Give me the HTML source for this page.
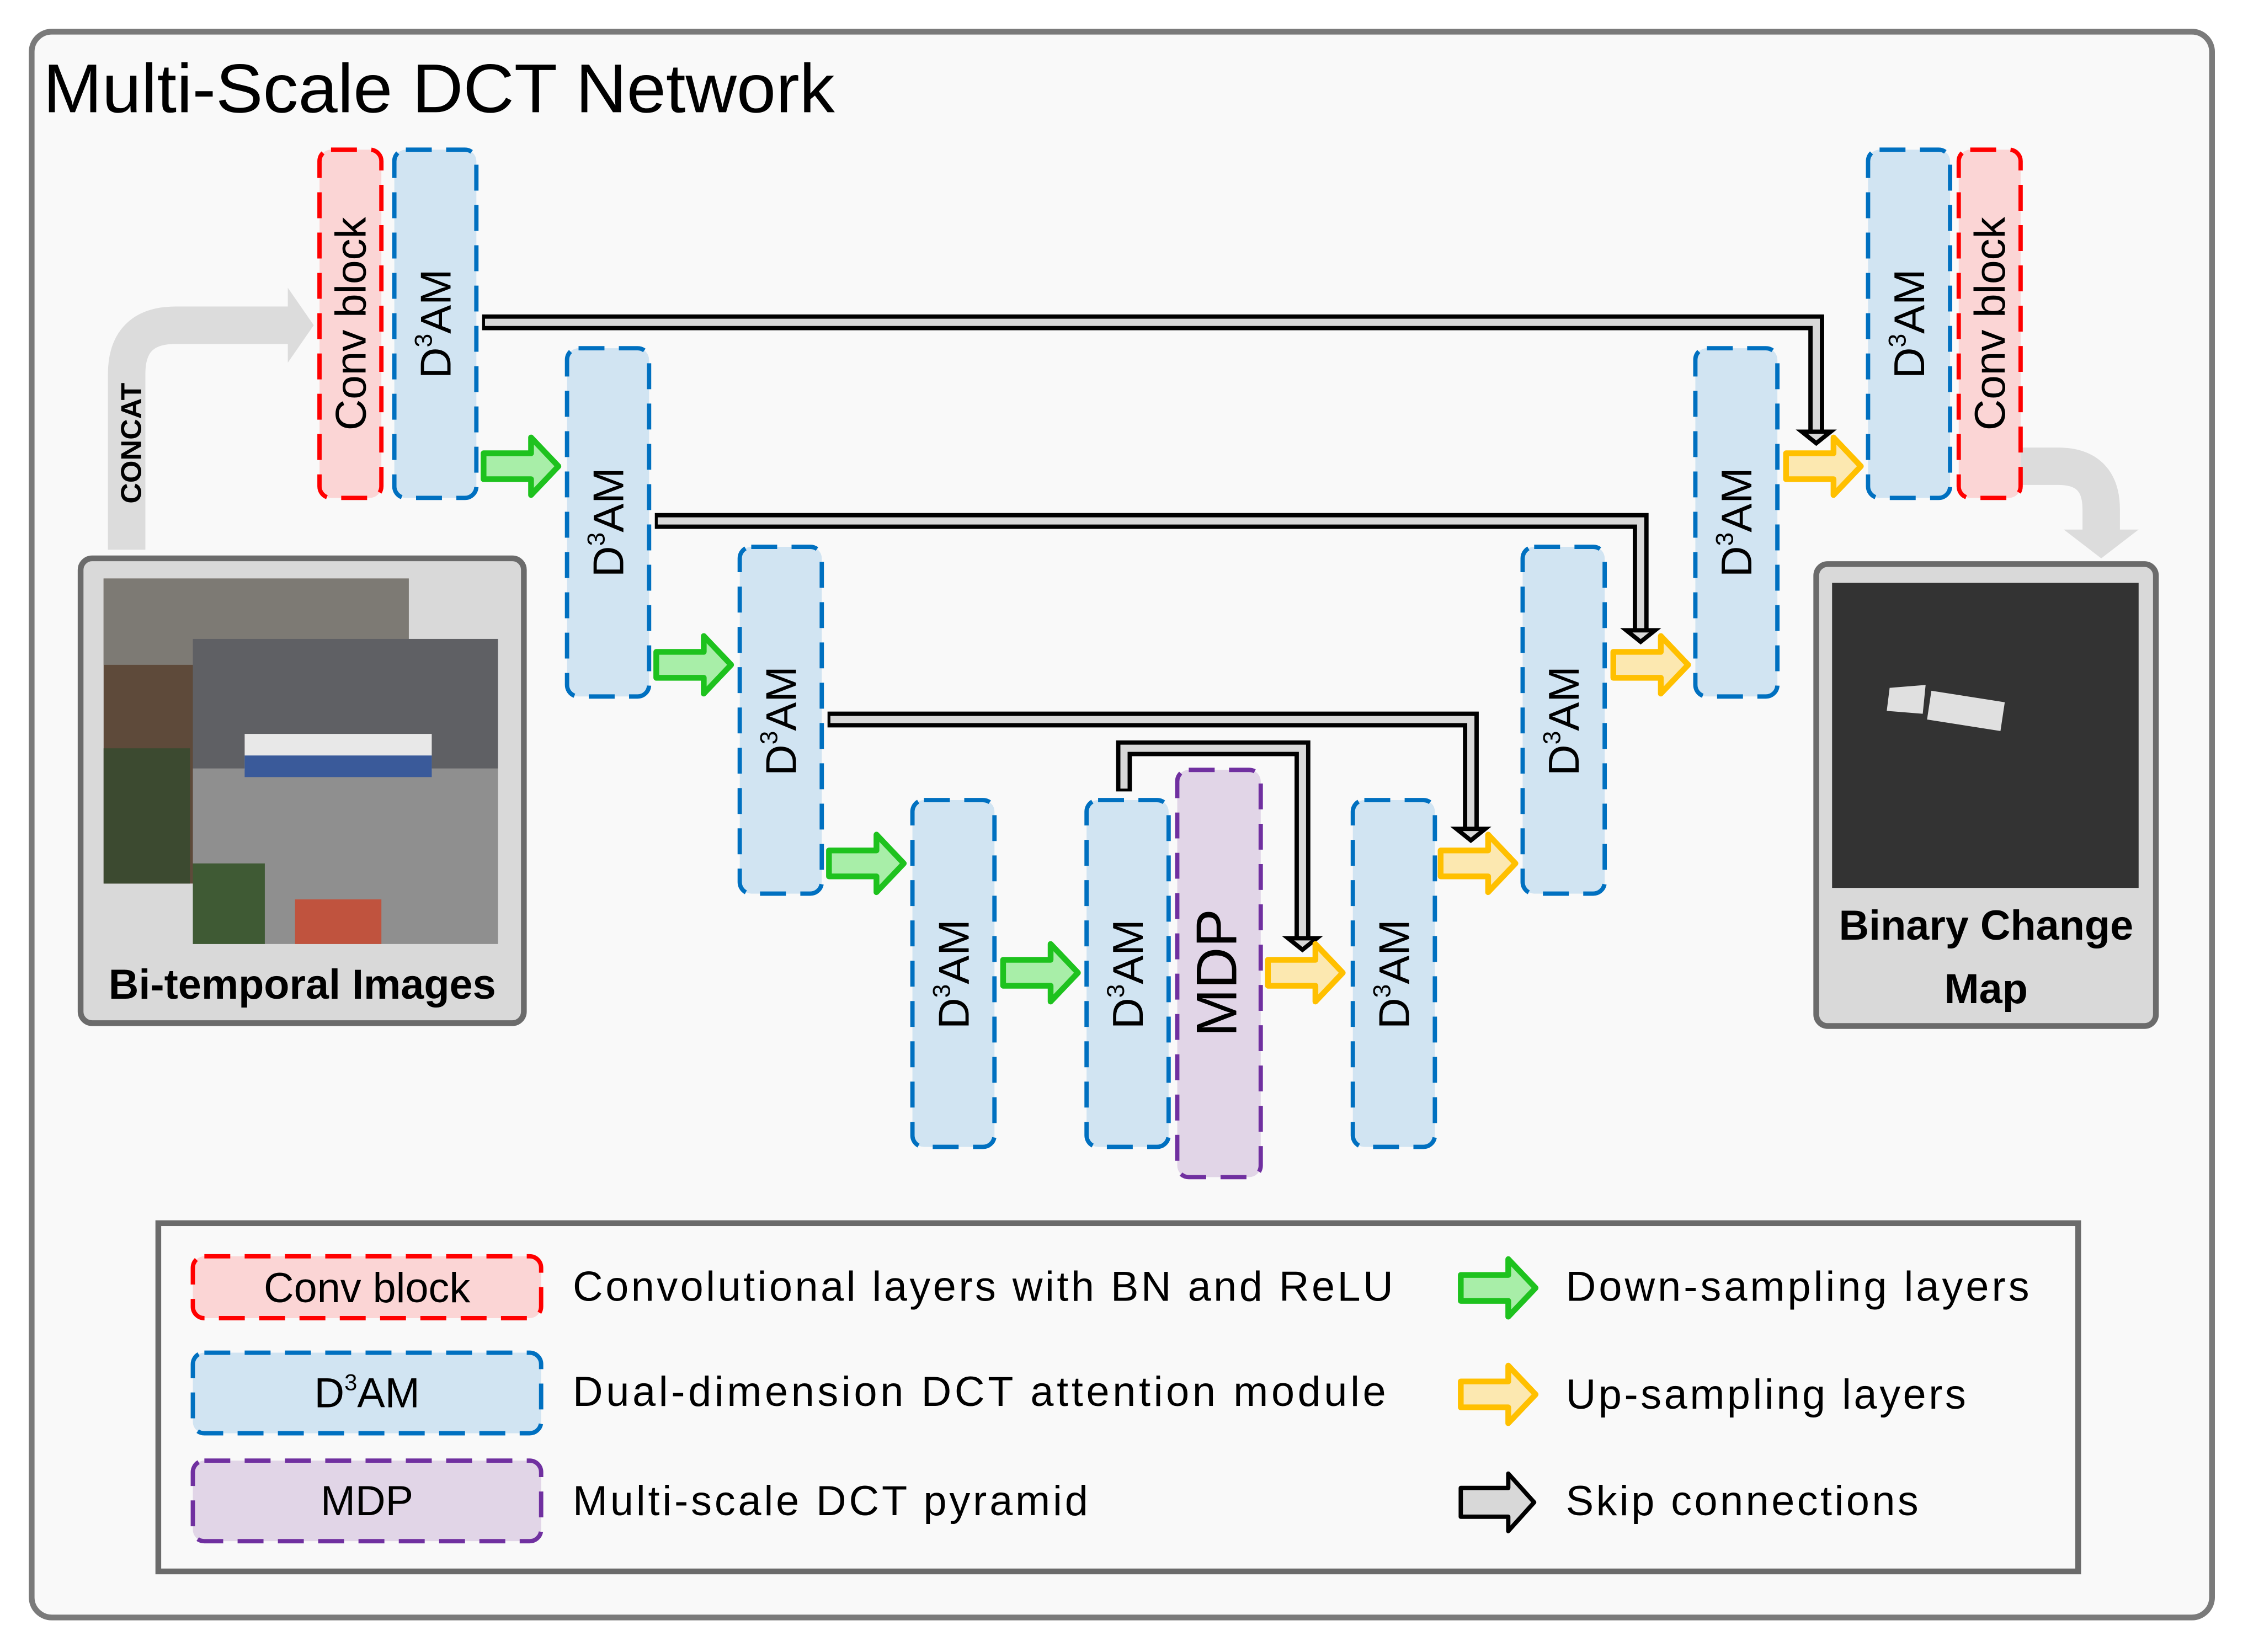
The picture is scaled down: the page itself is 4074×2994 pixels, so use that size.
<!DOCTYPE html>
<html><head><meta charset="utf-8"><style>
html,body{margin:0;padding:0;background:#fff;}
svg{display:block;}
text{font-family:"Liberation Sans",sans-serif;}
</style></head><body>
<svg width="4074" height="2994" viewBox="0 0 1562 1148" preserveAspectRatio="none" xmlns="http://www.w3.org/2000/svg">
<defs>
<g id="grn"><polygon points="0,-9 33,-9 33,-20 52,0 33,20 33,9 0,9" fill="#a8eea8" stroke="#1ec21e" stroke-width="4" stroke-linejoin="round"/></g>
<g id="yel"><polygon points="0,-9 33,-9 33,-20 52,0 33,20 33,9 0,9" fill="#fce8b0" stroke="#ffc000" stroke-width="4" stroke-linejoin="round"/></g>
</defs>
<rect x="22" y="22" width="1515" height="1102" rx="14" fill="#f9f9f9" stroke="#7a7a7a" stroke-width="4"/>
<text x="30" y="78" font-size="48" fill="#000" textLength="550" lengthAdjust="spacingAndGlyphs">Multi-Scale DCT Network</text>

<!-- CONCAT arrow -->
<path d="M88,382 L88,260 Q88,226 122,226 L205,226" fill="none" stroke="#dcdcdc" stroke-width="26"/>
<polygon points="200,200 218,226 200,252" fill="#dcdcdc"/>
<text transform="translate(98,350) rotate(-90)" font-size="20" font-weight="bold" fill="#000">CONCAT</text>
<!-- output arrow -->
<path d="M1404,324 L1430,324 Q1460,324 1460,354 L1460,370" fill="none" stroke="#dcdcdc" stroke-width="26"/>
<polygon points="1434,368 1486,368 1460,388" fill="#dcdcdc"/>

<!-- skip connections -->
<g fill="none" stroke-linejoin="miter">
<path d="M335,224 L1262,224 L1262,300" stroke="#000" stroke-width="11"/>
<path d="M337,224 L1262,224 L1262,300" stroke="#d8d8d8" stroke-width="5"/>
<path d="M455,362 L1140,362 L1140,438" stroke="#000" stroke-width="11"/>
<path d="M457,362 L1140,362 L1140,438" stroke="#d8d8d8" stroke-width="5"/>
<path d="M575,500 L1022,500 L1022,576" stroke="#000" stroke-width="11"/>
<path d="M577,500 L1022,500 L1022,576" stroke="#d8d8d8" stroke-width="5"/>
<path d="M781,550 L781,520 L905,520 L905,652" stroke="#000" stroke-width="11"/>
<path d="M781,548 L781,520 L905,520 L905,652" stroke="#d8d8d8" stroke-width="5"/>
</g>
<g fill="#d8d8d8" stroke="#000" stroke-width="3">
<polygon points="1252,300 1272,300 1262,308"/>
<polygon points="1130,438 1150,438 1140,446"/>
<polygon points="1012,576 1032,576 1022,584"/>
<polygon points="895,652 915,652 905,660"/>
</g>

<!-- blocks -->
<g stroke-dasharray="18,10" stroke-width="3">
<rect x="222" y="104" width="43" height="242" rx="8" fill="#fbd5d5" stroke="#f00"/>
<rect x="1361" y="104" width="43" height="242" rx="8" fill="#fbd5d5" stroke="#f00"/>
<rect x="274" y="104" width="57" height="242" rx="8" fill="#d1e4f2" stroke="#0070c0"/>
<rect x="394" y="242" width="57" height="242" rx="8" fill="#d1e4f2" stroke="#0070c0"/>
<rect x="514" y="380" width="57" height="241" rx="8" fill="#d1e4f2" stroke="#0070c0"/>
<rect x="634" y="556" width="57" height="241" rx="8" fill="#d1e4f2" stroke="#0070c0"/>
<rect x="755" y="556" width="57" height="241" rx="8" fill="#d1e4f2" stroke="#0070c0"/>
<rect x="818" y="535" width="58" height="283" rx="8" fill="#e1d5e7" stroke="#7030a0"/>
<rect x="940" y="556" width="57" height="241" rx="8" fill="#d1e4f2" stroke="#0070c0"/>
<rect x="1058" y="380" width="57" height="241" rx="8" fill="#d1e4f2" stroke="#0070c0"/>
<rect x="1178" y="242" width="57" height="242" rx="8" fill="#d1e4f2" stroke="#0070c0"/>
<rect x="1298" y="104" width="57" height="242" rx="8" fill="#d1e4f2" stroke="#0070c0"/>
</g>
<g font-size="30" fill="#000" text-anchor="middle">
<text transform="translate(254,225) rotate(-90)">Conv block</text>
<text transform="translate(1393,225) rotate(-90)">Conv block</text>
<text transform="translate(859,676) rotate(-90)" font-size="40">MDP</text>
<text transform="translate(313,225) rotate(-90)">D<tspan font-size="17" dy="-13">3</tspan><tspan dy="13">AM</tspan></text>
<text transform="translate(433,363) rotate(-90)">D<tspan font-size="17" dy="-13">3</tspan><tspan dy="13">AM</tspan></text>
<text transform="translate(553,501) rotate(-90)">D<tspan font-size="17" dy="-13">3</tspan><tspan dy="13">AM</tspan></text>
<text transform="translate(673,677) rotate(-90)">D<tspan font-size="17" dy="-13">3</tspan><tspan dy="13">AM</tspan></text>
<text transform="translate(794,677) rotate(-90)">D<tspan font-size="17" dy="-13">3</tspan><tspan dy="13">AM</tspan></text>
<text transform="translate(979,677) rotate(-90)">D<tspan font-size="17" dy="-13">3</tspan><tspan dy="13">AM</tspan></text>
<text transform="translate(1097,501) rotate(-90)">D<tspan font-size="17" dy="-13">3</tspan><tspan dy="13">AM</tspan></text>
<text transform="translate(1217,363) rotate(-90)">D<tspan font-size="17" dy="-13">3</tspan><tspan dy="13">AM</tspan></text>
<text transform="translate(1337,225) rotate(-90)">D<tspan font-size="17" dy="-13">3</tspan><tspan dy="13">AM</tspan></text>
</g>

<!-- arrows -->
<use href="#grn" x="336" y="324"/>
<use href="#grn" x="456" y="462"/>
<use href="#grn" x="576" y="600"/>
<use href="#grn" x="697" y="676"/>
<use href="#yel" x="881" y="676"/>
<use href="#yel" x="1001" y="600"/>
<use href="#yel" x="1121" y="462"/>
<use href="#yel" x="1241" y="324"/>

<!-- bi-temporal images -->
<rect x="56" y="388" width="308" height="323" rx="8" fill="#d9d9d9" stroke="#6b6b6b" stroke-width="4"/>
<rect x="72" y="402" width="212" height="212" fill="#5e4a3a"/>
<rect x="72" y="402" width="212" height="60" fill="#7d7a74"/>
<rect x="72" y="520" width="60" height="94" fill="#3c4a30"/>
<rect x="134" y="444" width="212" height="212" fill="#8f8f8f"/>
<rect x="134" y="444" width="212" height="90" fill="#5f6064"/>
<rect x="170" y="510" width="130" height="25" fill="#e8e8e8"/>
<rect x="170" y="525" width="130" height="15" fill="#3a5a9a"/>
<rect x="134" y="600" width="50" height="56" fill="#3f5a34"/>
<rect x="205" y="625" width="60" height="31" fill="#c0533e"/>
<text x="210" y="694" font-size="29" font-weight="bold" text-anchor="middle">Bi-temporal Images</text>

<!-- binary change map -->
<rect x="1262" y="392" width="236" height="321" rx="8" fill="#d9d9d9" stroke="#6b6b6b" stroke-width="4"/>
<rect x="1273" y="405" width="213" height="212" fill="#333"/>
<polygon points="1313,478 1338,476 1336,496 1311,494" fill="#e0e0e0"/>
<polygon points="1342,480 1393,488 1390,508 1339,500" fill="#e0e0e0"/>
<text x="1380" y="653" font-size="29" font-weight="bold" text-anchor="middle">Binary Change</text>
<text x="1380" y="697" font-size="29" font-weight="bold" text-anchor="middle">Map</text>

<!-- legend -->
<rect x="110" y="850" width="1334" height="242" fill="#f9f9f9" stroke="#6b6b6b" stroke-width="4"/>
<g stroke-dasharray="18,10" stroke-width="3">
<rect x="134" y="873" width="242" height="43" rx="8" fill="#fbd5d5" stroke="#f00"/>
<rect x="134" y="940" width="242" height="56" rx="8" fill="#d1e4f2" stroke="#0070c0"/>
<rect x="134" y="1015" width="242" height="56" rx="8" fill="#e1d5e7" stroke="#7030a0"/>
</g>
<g font-size="29" fill="#000">
<text x="255" y="905" text-anchor="middle">Conv block</text>
<text x="255" y="978" text-anchor="middle">D<tspan font-size="16" dy="-12">3</tspan><tspan dy="12">AM</tspan></text>
<text x="255" y="1053" text-anchor="middle">MDP</text>
<text x="398" y="904" textLength="570">Convolutional layers with BN and ReLU</text>
<text x="398" y="977" textLength="565">Dual-dimension DCT attention module</text>
<text x="398" y="1053" textLength="358">Multi-scale DCT pyramid</text>
<text x="1088" y="904" textLength="322">Down-sampling layers</text>
<text x="1088" y="979" textLength="278">Up-sampling layers</text>
<text x="1088" y="1053" textLength="245">Skip connections</text>
</g>
<use href="#grn" x="1015" y="895"/>
<use href="#yel" x="1015" y="969"/>
<polygon points="1015,1034 1048,1034 1048,1024 1066,1044 1048,1064 1048,1054 1015,1054" fill="#d8d8d8" stroke="#000" stroke-width="3" stroke-linejoin="round"/>
</svg>
</body></html>
